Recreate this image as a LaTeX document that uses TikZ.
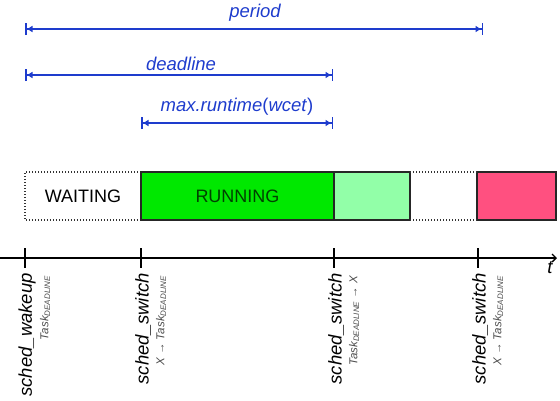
\documentclass[tikz,border=0pt]{standalone}
\usepackage{fontspec}
\setmainfont{Liberation Sans}
\usetikzlibrary{arrows.meta, positioning}
\definecolor{spanblue}{RGB}{30,60,205}
\definecolor{rungreen}{RGB}{0,232,0}
\definecolor{slackgreen}{RGB}{146,255,168}
\definecolor{misspink}{RGB}{255,80,128}
\newcommand{\taskdl}{Task\raisebox{-1.8pt}{\fontsize{8}{9}\selectfont DEADLINE}}

\begin{document}
\begin{tikzpicture}[x=1pt, y=-1pt, node distance=0pt,
    phase/.style={draw=black!85, line width=1.1pt, minimum height=48pt,
                  inner sep=0pt, outer sep=0pt, font=\fontsize{18}{20}\selectfont},
    idle/.style={line width=1.3pt, black!80, dash pattern=on 1.3pt off 1.7pt},
    span/.style={spanblue, line width=1.5pt,
                 {Bar[width=12pt]Latex[length=6pt,width=7pt]}-{Latex[length=6pt,width=7pt]Bar[width=12pt]}},
    spanlabel/.style={spanblue, inner sep=0pt, font=\fontsize{18.5}{20}\selectfont\itshape},
    evt/.style={rotate=90, anchor=east, inner sep=0pt, font=\fontsize{18.5}{20}\selectfont\itshape},
    evtsub/.style={rotate=90, anchor=east, inner sep=0pt, text=black!70,
                   font=\fontsize{11.5}{12}\selectfont\itshape}]
  \useasboundingbox (0,0) rectangle (560,400);

  % time spans
  \coordinate (p0) at (25,29);  \coordinate (p1) at (483,29);
  \coordinate (d0) at (25,75);  \coordinate (d1) at (333,75);
  \coordinate (w0) at (141,123); \coordinate (w1) at (333,123);
  \draw[span] (p0) -- (p1);
  \draw[span] (d0) -- (d1);
  \draw[span] (w0) -- (w1);
  \node[spanlabel] (period) at (255,13) {period};
  \node[spanlabel] (deadline) at (181,64) {deadline};
  \node[spanlabel] (wcet) at (237,107) {max.runtime\textup{(}wcet\textup{)}};

  % task states
  \node[phase, draw=none, minimum width=116pt, anchor=north west] (waiting) at (25,172) {WAITING};
  \draw[idle] (waiting.north east) -- (waiting.north west) -- (waiting.south west) -- (waiting.south east);
  \node[phase, fill=rungreen, minimum width=193pt, right=of waiting,
        text=black!75!green] (running) {RUNNING};
  \node[phase, fill=slackgreen, minimum width=76pt, right=of running] (slack) {};
  \node[phase, fill=misspink, minimum width=79pt, anchor=north west] (miss) at (477,172) {};
  \draw[idle] (slack.north east) -- (miss.north west);
  \draw[idle] (slack.south east) -- (miss.south west);

  % time axis
  \coordinate (origin) at (0,258);
  \coordinate (tend) at (557,258);
  \draw[line width=1.3pt, -{Straight Barb[length=4pt,width=8pt]}] (origin) -- (tend);
  \node[font=\fontsize{18.5}{20}\selectfont\itshape, inner sep=0pt] (tlabel) at (550,268) {t};

  \foreach \i/\x/\main/\sub in {0/25/sched\_wakeup/\taskdl,
                                 1/141/sched\_switch/X → \taskdl,
                                 2/334/sched\_switch/\taskdl{} → X,
                                 3/478/sched\_switch/X → \taskdl} {
    \draw[line width=1.3pt] (\x,248) -- (\x,268);
    \node[evt] (ev\i) at (\x+2,273) {\main};
    \node[evtsub] (sub\i) at (\x+20,276) {\sub};
  }
\end{tikzpicture}
\end{document}
